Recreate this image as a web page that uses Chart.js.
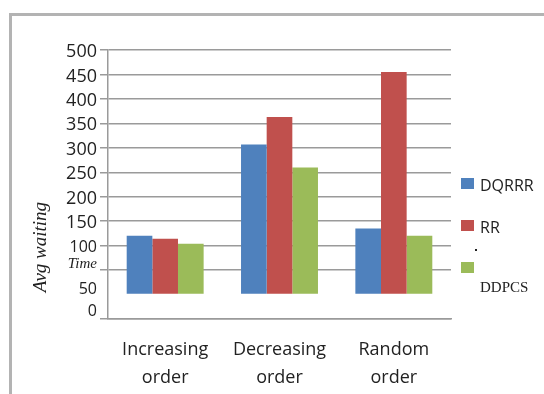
<!DOCTYPE html>
<html>
<head>
<meta charset="utf-8">
<script src="https://cdn.jsdelivr.net/npm/chart.js@4.4.0/dist/chart.umd.min.js"></script>
<style>
  html, body { margin: 0; padding: 0; background: #fff; }
  #wrap { position: relative; width: 544px; height: 394px; overflow: hidden; }
  #frame { position: absolute; left: 9px; top: 13px; right: -10px; bottom: -10px;
           border-left: 3px solid #b3b3b3; border-top: 3px solid #b3b3b3; }
  canvas { position: absolute; left: 0; top: 0; }
</style>
</head>
<body>
<div id="wrap"><div id="frame"></div><canvas id="chart" width="544" height="394"></canvas></div>
<script>
const categories = [['Increasing', 'order'], ['Decreasing', 'order'], ['Random', 'order']];
const seriesNames = ['DQRRR', 'RR', 'DDPCS'];
const dqrrr = [120, 307, 135];
const rr = [114, 363, 455];
const ddpcs = [104, 260, 120];
const colors = ['#4f81bd', '#c0504d', '#9bbb59'];
// the lower end of the y axis is labelled oddly in the original
const lowLabels = ['Time', '50', '0'];
const lowValues = [50, 0, -50];

const gridColor = '#9a9a9a';

const extras = {
  id: 'extras',
  afterDraw(chart) {
    const { ctx, chartArea, scales: { y } } = chart;
    ctx.save();
    ctx.fillStyle = '#222';
    ctx.textAlign = 'right';
    ctx.textBaseline = 'middle';
    const shifts = [-6, -5, -8];
    lowLabels.forEach((txt, i) => {
      ctx.font = i === 0 ? 'italic 15px "Liberation Serif"' : '16px "Open Sans"';
      ctx.fillText(txt, chartArea.left - 11, y.getPixelForValue(lowValues[i]) + shifts[i]);
    });

    // y title
    ctx.save();
    ctx.translate(41, 247);
    ctx.rotate(-Math.PI / 2);
    ctx.textAlign = 'center';
    ctx.font = 'italic 19px "Liberation Serif"';
    ctx.fillText('Avg waiting', 0, 0);
    ctx.restore();

    // legend
    const bx = chartArea.right + 10;
    const boxY = [178, 220, 262];
    ctx.textAlign = 'left';
    seriesNames.forEach((name, i) => {
      ctx.fillStyle = colors[i];
      ctx.fillRect(bx, boxY[i], 13, 11);
      ctx.fillStyle = '#222';
      if (i < 2) {
        ctx.font = '16px "Open Sans"';
        ctx.fillText(name, bx + 19, boxY[i] + 8);
      } else {
        ctx.font = '15px "Liberation Serif"';
        ctx.fillText(name, bx + 19, boxY[i] + 26);
      }
    });
    ctx.fillRect(bx + 14, 249, 2, 2);
    ctx.restore();
  }
};

new Chart(document.getElementById('chart'), {
  type: 'bar',
  data: {
    labels: categories,
    datasets: seriesNames.map((name, i) => ({
      label: name,
      data: [dqrrr, rr, ddpcs][i],
      backgroundColor: colors[i],
      borderWidth: 0,
      categoryPercentage: 0.673,
      barPercentage: 1
    }))
  },
  options: {
    responsive: false,
    animation: false,
    layout: { padding: { left: 0, right: 93, top: 50, bottom: 0 } },
    plugins: {
      legend: { display: false },
      tooltip: { enabled: false }
    },
    scales: {
      x: {
        grid: { display: false, drawTicks: false },
        border: { display: true, color: gridColor, width: 1.5 },
        ticks: {
          color: '#222',
          padding: 17,
          maxRotation: 0,
          font: { family: 'Open Sans', size: 18, lineHeight: 1.56 }
        },
        afterFit(scale) { scale.height = 75; }
      },
      y: {
        min: -50,
        max: 500,
        ticks: {
          stepSize: 50,
          autoSkip: false,
          padding: 3,
          labelOffset: 2,
          color: '#222',
          font: ctx => ({ family: 'Open Sans', size: ctx.tick && ctx.tick.value <= 100 ? 16 : 18 }),
          callback: v => (v >= 100 ? String(v) : '')
        },
        grid: {
          color: ctx => (ctx.tick && ctx.tick.value === 0 ? 'rgba(0,0,0,0)' : gridColor),
          lineWidth: 1.5,
          tickLength: 8
        },
        border: { display: true, color: gridColor, width: 1.5 },
        afterFit(scale) { scale.width = 108; }
      }
    }
  },
  plugins: [extras]
});
</script>
</body>
</html>
